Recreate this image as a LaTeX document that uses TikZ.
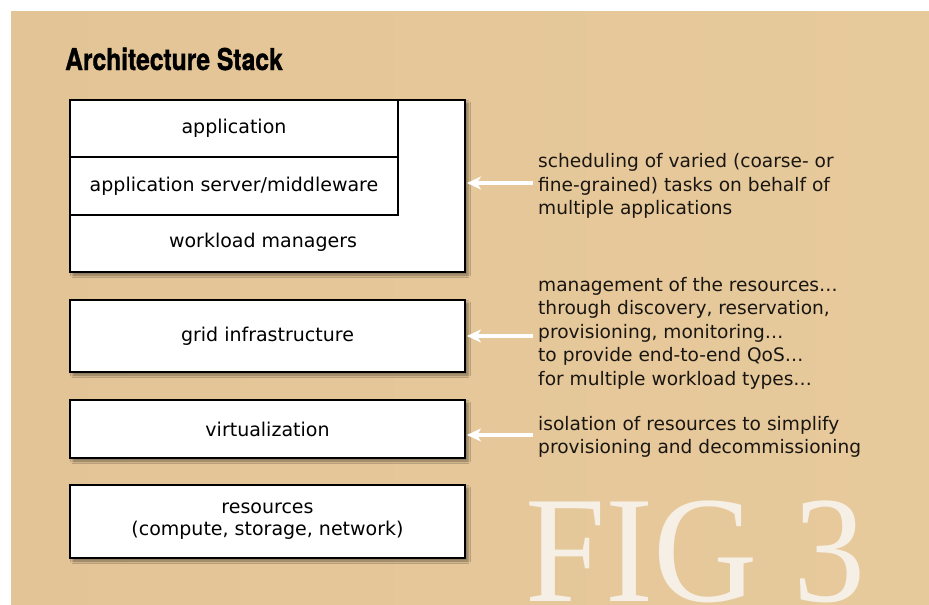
\documentclass[tikz,border=0pt]{standalone}
\usepackage{graphicx}
\usepackage{fontspec}
\setmainfont{DejaVu Sans}
\newfontfamily\titlefont{TeX Gyre Heros}[BoldFeatures={FakeBold=1.3}]
\newfontfamily\figfont{Liberation Serif}
\usetikzlibrary{positioning,shadows.blur,arrows.meta}

\definecolor{tanleft}{RGB}{227,196,150}
\definecolor{tanmid}{RGB}{227,188,148}
\definecolor{tanright}{RGB}{231,202,156}
\definecolor{figwhite}{RGB}{246,239,229}
\definecolor{notetext}{RGB}{25,22,18}

\begin{document}
\begin{tikzpicture}[x=1pt,y=-1pt,
  layer/.style={draw, line width=2.5pt, fill=white, inner sep=0pt, outer sep=0pt,
    font=\fontsize{19}{22}\selectfont},
  stack/.style={layer, blur shadow={shadow xshift=3pt, shadow yshift=-3pt,
    shadow blur radius=2.5pt, shadow opacity=45}},
  note/.style={align=left, anchor=west, inner xsep=5pt, inner ysep=0pt,
    text=notetext, font=\fontsize{18.6}{23.5}\selectfont},
  push/.style={draw=white, line width=4pt,
    -{Stealth[length=14pt,width=13pt,inset=4pt]}, shorten >=2pt}]

  \useasboundingbox (0,0) rectangle (929,605);
  \fill[white] (0,0) rectangle (929,605);

  % Background and big figure number

  \shade[left color=tanleft, middle color=tanmid, right color=tanright]
    (11,11) rectangle (929,605);
  \begin{scope}
    \clip (11,11) rectangle (929,605);
    \node[anchor=base west, inner sep=0pt, text=figwhite,
      font=\figfont\fontsize{152}{152}\selectfont] (fig) at (525,601)
      {\scalebox{0.95}[1]{FIG 3}};
  \end{scope}

  \node[anchor=base west, inner sep=0pt,
    font=\titlefont\bfseries\fontsize{30}{30}\selectfont] (title) at (65,70)
    {\scalebox{0.82}[1]{Architecture Stack}};

  % The stack of layers

  \node[stack, anchor=north west, minimum width=395, minimum height=172]
    (wlm) at (70,100) {};
  \node[layer, anchor=north west, minimum width=328, minimum height=57]
    (app) at (70,100) {application};
  \node[layer, below=0pt of app, minimum width=328, minimum height=58]
    (mw) {application server/middleware};
  \node[font=\fontsize{19}{22}\selectfont] (wlmtext) at (263,242)
    {workload managers};

  \node[stack, below=28pt of wlm, minimum width=395, minimum height=72]
    (grid) {grid infrastructure};
  \node[stack, below=28pt of grid, minimum width=395, minimum height=58]
    (virt) {virtualization};
  \node[stack, below=27pt of virt, minimum width=395, minimum height=73,
    align=center] (res) {resources\\(compute, storage, network)};

  % Notes on the right and their arrows

  \node[note] (schednote) at (533,186)
    {scheduling of varied (coarse- or\\fine-grained) tasks on behalf of\\multiple applications};
  \node[note] (gridnote) at (533,333)
    {management of the resources\dots\\through discovery, reservation,\\provisioning, monitoring\dots\\to provide end-to-end QoS\dots\\for multiple workload types\dots};
  \node[note] (virtnote) at (533,437)
    {isolation of resources to simplify\\provisioning and decommissioning};

  \draw[push] ([yshift=3pt]schednote.west) -- ([yshift=3pt]schednote.west -| wlm.east);
  \draw[push] ([yshift=-3pt]gridnote.west) -- ([yshift=-3pt]gridnote.west -| grid.east);
  \draw[push] ([yshift=2pt]virtnote.west) -- ([yshift=2pt]virtnote.west -| virt.east);
\end{tikzpicture}
\end{document}
